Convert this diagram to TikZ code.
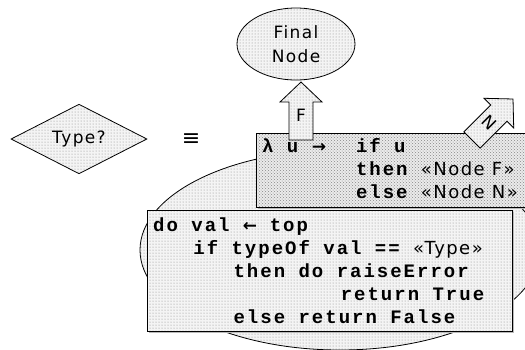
\documentclass[tikz,border=0pt]{standalone}
\usepackage{fontspec}
\usetikzlibrary{shapes.geometric,patterns}
\newfontfamily\monocode[LetterSpace=10.5]{Liberation Mono}
\newfontfamily\sanslbl[LetterSpace=8]{DejaVu Sans}
\newfontfamily\symfnt{DejaVu Sans}
\newcommand\codefnt{\monocode\bfseries\fontsize{19}{23}\selectfont\spaceskip=13.4pt\relax}
\newcommand\lblfnt{\sanslbl\mdseries\fontsize{17}{24}\selectfont\spaceskip=0pt\relax}
% quoted node names inside the code lines
\newcommand\quotefnt{\sanslbl\mdseries\fontsize{18}{23}\selectfont\spaceskip=0pt\relax}
% arrows set in a fuller glyph than the mono font offers
\newcommand\codearrow[1]{\makebox[13.4pt][l]{\symfnt\bfseries\fontsize{17}{23}\selectfont #1}}
\begin{document}
\begin{tikzpicture}[x=1pt,y=-1pt,
  outline/.style={draw=black, line width=0.8pt},
  lightfill/.style={preaction={fill=gray!9}, pattern=dots, pattern color=gray!95},
  densefill/.style={preaction={fill=gray!16}, pattern=crosshatch dots, pattern color=gray!95},
  shadowfill/.style={fill=gray!55},
  code/.style={font=\codefnt, anchor=base west, inner sep=0pt},
  lbl/.style={font=\lblfnt, inner sep=0pt}]
\useasboundingbox (0,0) rectangle (525,349);

% decision diamond and its equivalence sign
\node[diamond, outline, lightfill, minimum width=136pt, minimum height=52pt,
      inner sep=0pt, font=\lblfnt] (type) at (79,139) {Type?};
\node[font=\symfnt\fontsize{22}{22}\selectfont, inner sep=0pt] (eq) at (191,140) {≡};

% target node
\node[ellipse, outline, lightfill, minimum width=118pt, minimum height=72pt,
      inner sep=0pt, align=center, font=\lblfnt] (final) at (296,44) {Final\\Node};

% context ellipse behind the code
\node[ellipse, outline, lightfill, minimum width=400pt, minimum height=200pt,
      inner sep=0pt] (ctx) at (340,250) {};

% selector box
\fill[shadowfill] (258,135) rectangle (532,209);
\node[rectangle, outline, densefill, minimum width=276pt, minimum height=74pt,
      inner sep=0pt, anchor=north west] (sel) at (256,133) {};

% exit arrow F
\draw[outline, lightfill] (289,140) -- (289,102) -- (280,102) -- (301,82)
  -- (322,102) -- (313,102) -- (313,140) -- cycle;
\node[lbl] (flab) at (301,115) {F};

% exit arrow N
\begin{scope}[shift={(472,140)}, rotate=-45]
  \draw[outline, lightfill] (-11.5,0) -- (-11.5,-38) -- (-21,-38) -- (0,-58)
    -- (21,-38) -- (11.5,-38) -- (11.5,0) -- cycle;
  \node[lbl, rotate=-45] (nlab) at (0,-25) {N};
\end{scope}

% selector code
\node[code] (s1a) at (262,152) {λ u \codearrow{→}};
\node[code] (s1b) at (355.8,152) {if u};
\node[code] (s2) at (355.8,175) {then {\quotefnt «Node F»}};
\node[code] (s3) at (355.8,198) {else {\quotefnt «Node N»}};

% test box
\fill[shadowfill] (149,212) rectangle (514,333);
\node[rectangle, outline, lightfill, minimum width=365pt, minimum height=121pt,
      inner sep=0pt, anchor=north west] (test) at (147,210) {};

% test code
\node[code] (c1) at (153,231) {do val \codearrow{←} top};
\node[code] (c2) at (193.2,254) {if typeOf val == {\quotefnt «Type»}};
\node[code] (c3) at (233.4,277) {then do raiseError};
\node[code] (c4) at (340.6,300) {return True};
\node[code] (c5) at (233.4,323) {else return False};
\end{tikzpicture}
\end{document}
